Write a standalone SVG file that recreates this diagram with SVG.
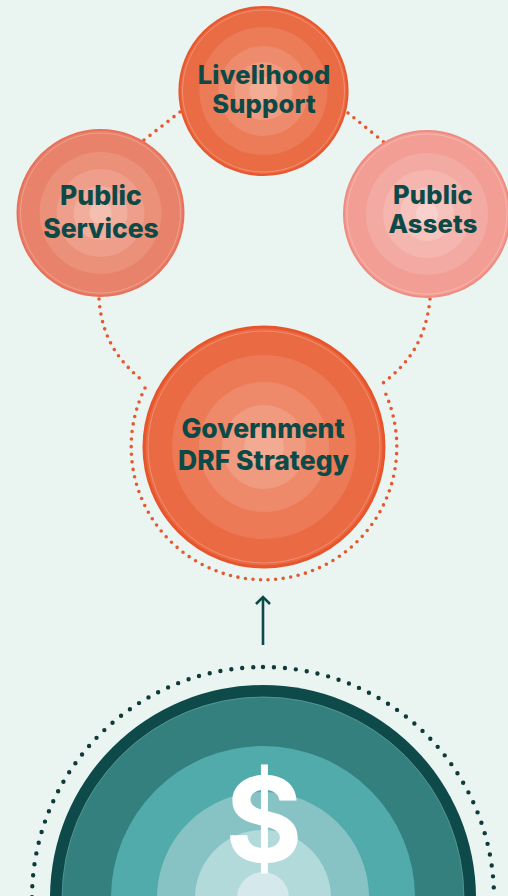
<svg xmlns="http://www.w3.org/2000/svg" width="508" height="896" viewBox="0 0 508 896">
<style>
.lbl{font-family:Inter,"Liberation Sans",sans-serif;font-weight:800;font-size:26.5px;fill:#0D4A47;text-anchor:middle}
.sm{font-size:25.5px;letter-spacing:0.2px}
.dot-o{fill:none;stroke:#E8582E;stroke-width:3.6;stroke-linecap:round;stroke-dasharray:0 7.6}
.dot-d{fill:none;stroke:#0F3A3A;stroke-width:4.4;stroke-linecap:round;stroke-dasharray:0 11}
.hl{fill:none;stroke:#ffffff;stroke-opacity:0.3;stroke-width:0.8}
</style>
<rect width="508" height="896" fill="#EAF4F1"/>
<g id="connectors">
<path class="dot-o" d="M180,112 L144,140"/>
<path class="dot-o" d="M348,113 L385,143"/>
<path class="dot-o" d="M99,299 C102,340 120,362 144,382"/>
<path class="dot-o" d="M430,299 C426,340 408,364 383,383"/>
<path class="dot-o" d="M145,388 A132.8,132.8 0 1,0 383,388"/>
<path class="dot-d" d="M263,667 A231,231 0 0,1 263,1129 A231,231 0 0,1 263,667"/>
<g id="arrow" fill="none" stroke="#0D4A47" stroke-width="2.6">
<path d="M263,645 L263,597"/>
<path d="M256,604 L263,597 L270,604"/>
</g>
</g>
<g id="livelihood">
<circle cx="263.5" cy="91" r="84" fill="#EA6C45" stroke="#E8582E" stroke-width="2.2"/>
<circle cx="263.5" cy="91" r="81" class="hl"/>
<circle cx="263.5" cy="91" r="64" fill="#EC7B58"/>
<circle cx="263.5" cy="91" r="45" fill="#EE8B6C"/>
<circle cx="263.5" cy="91" r="29" fill="#F09C80"/>
<circle cx="263.5" cy="91" r="14" fill="#F3AD95"/>
<text class="lbl sm" x="264" y="84">Livelihood</text>
<text class="lbl sm" x="264" y="113">Support</text>
</g>
<g id="services">
<circle cx="100.5" cy="213" r="83" fill="#E8826A" stroke="#E9705A" stroke-width="2"/>
<circle cx="100.5" cy="213" r="80" class="hl"/>
<circle cx="100.5" cy="213" r="61" fill="#EB9079"/>
<circle cx="100.5" cy="213" r="44" fill="#EE9E8A"/>
<circle cx="100.5" cy="213" r="27" fill="#F1AE9C"/>
<circle cx="100.5" cy="213" r="11" fill="#F4BFB1"/>
<text class="lbl" x="101" y="205">Public</text>
<text class="lbl" x="101" y="238">Services</text>
</g>
<g id="assets">
<circle cx="427" cy="214" r="83" fill="#F29E95" stroke="#EF8C82" stroke-width="2"/>
<circle cx="427" cy="214" r="80" class="hl"/>
<circle cx="427" cy="214" r="61" fill="#F3AAA2"/>
<circle cx="427" cy="214" r="44" fill="#F5B6AF"/>
<circle cx="427" cy="214" r="27" fill="#F7C3BD"/>
<circle cx="427" cy="214" r="11" fill="#F9D0CB"/>
<text class="lbl sm" x="433" y="204">Public</text>
<text class="lbl sm" x="433" y="233">Assets</text>
</g>
<g id="drf">
<circle cx="264" cy="447" r="120" fill="#EA6A43" stroke="#E8552C" stroke-width="3"/>
<circle cx="264" cy="447" r="116" class="hl"/>
<circle cx="264" cy="447" r="92" fill="#EC7A56"/>
<circle cx="264" cy="447" r="65" fill="#EE8A6A"/>
<circle cx="264" cy="447" r="42" fill="#F09A7F"/>
<circle cx="264" cy="447" r="20" fill="#F3AA92"/>
<text class="lbl" x="263" y="438">Government</text>
<text class="lbl" x="263.5" y="470">DRF Strategy</text>
</g>
<g id="finance">
<circle cx="263" cy="898" r="213" fill="#0F4A4A"/>
<circle cx="263" cy="898" r="201" fill="#33807F" stroke="#5E9E9C" stroke-width="0.8"/>
<circle cx="263" cy="898" r="152" fill="#52ABAB"/>
<circle cx="263" cy="898" r="106" fill="#87C3C5"/>
<circle cx="263" cy="898" r="68" fill="#B2DADB"/>
<circle cx="263" cy="898" r="26" fill="#D5E8EC"/>
<text x="264" y="862" font-family="Inter,'Liberation Sans',sans-serif" font-weight="700" font-size="118" fill="#ffffff" text-anchor="middle">$</text>
</g>
</svg>
